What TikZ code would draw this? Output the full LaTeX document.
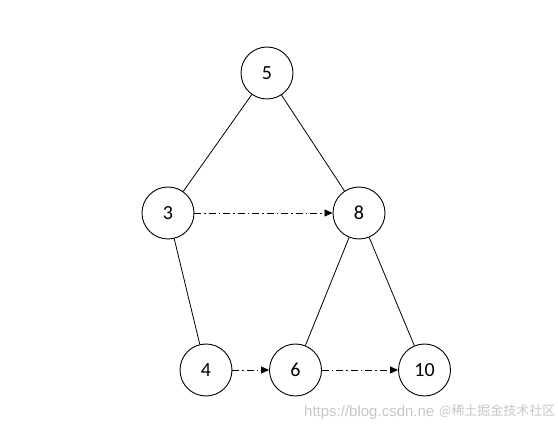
\documentclass[tikz,border=0pt]{standalone}
\usepackage{fontspec}
\setmainfont{Carlito}
\newfontfamily\cjkfont{Noto Sans CJK SC}
\newfontfamily\wmfont{Liberation Sans}
\usetikzlibrary{arrows.meta}
\tikzset{
  treenode/.style={circle, draw=black, line width=0.9pt, minimum size=52pt, inner sep=0pt, font=\fontsize{20}{24}\selectfont, fill=white},
  edge/.style={draw=black, line width=0.8pt},
  link/.style={draw=black, line width=0.8pt, dash pattern=on 7pt off 3pt on 1.5pt off 3pt, -{Triangle[length=8pt,width=7pt]}},
  watermark/.style={text=black!22, inner sep=0pt, anchor=west}
}
\begin{document}
\begin{tikzpicture}[x=1pt,y=-1pt]
\useasboundingbox (0,0) rectangle (558,433);
\node[treenode] (n5) at (267,73) {5};
\node[treenode] (n3) at (168,213) {3};
\node[treenode] (n8) at (359,213) {8};
\node[treenode] (n4) at (206,370) {4};
\node[treenode] (n6) at (295.5,370) {6};
\node[treenode] (n10) at (424.5,370) {10};
\draw[edge] (n5) -- (n3);
\draw[edge] (n5) -- (n8);
\draw[edge] (n3) -- (n4);
\draw[edge] (n8) -- (n6);
\draw[edge] (n8) -- (n10);
\draw[link] (n3) -- (n8);
\draw[link] (n4) -- (n6);
\draw[link] (n6) -- (n10);
\node[watermark, font=\wmfont\fontsize{15}{18}\selectfont] (wm1) at (304,413) {https://blog.csdn.ne};
\node[watermark, font=\cjkfont\fontsize{13}{16}\selectfont] (wm2) at (439,411) {@稀土掘金技术社区};
\end{tikzpicture}
\end{document}
